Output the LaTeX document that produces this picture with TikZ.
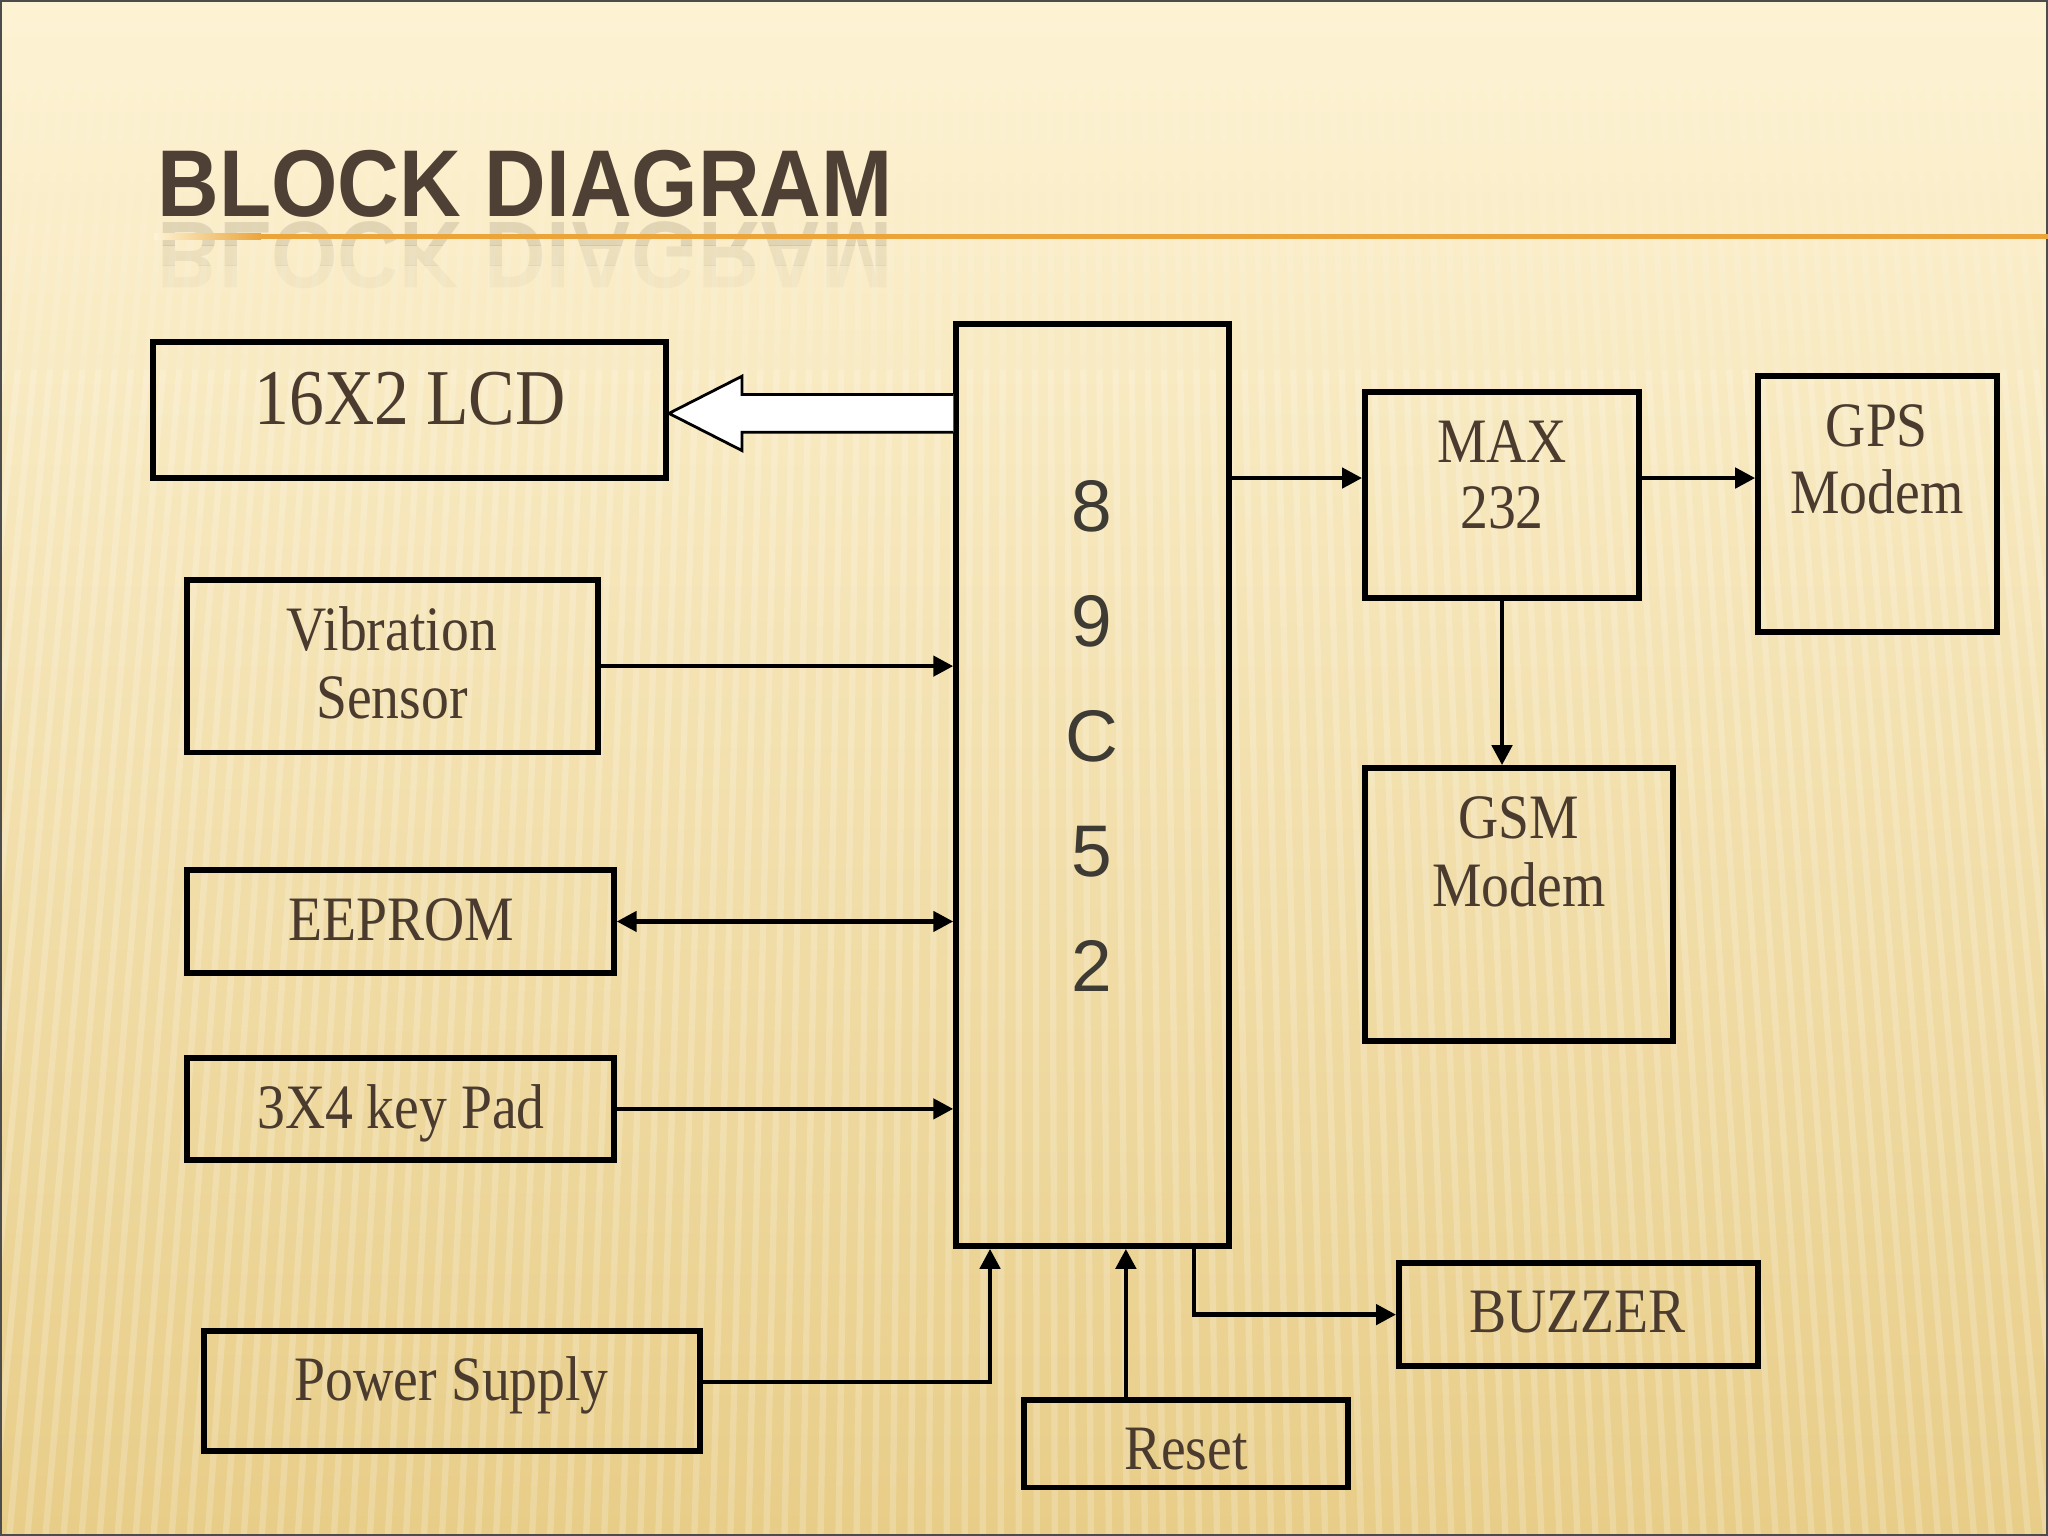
\documentclass[tikz,border=0pt]{standalone}
\usepackage{fontspec}
\usepackage{graphicx}
\usetikzlibrary{arrows.meta,calc}
\newfontfamily\boxfont[FakeStretch=0.88]{Liberation Serif}
\newfontfamily\ttlfont[FakeStretch=0.9]{Liberation Sans Bold}
\newfontfamily\chipfont{Liberation Sans}
\definecolor{txt}{HTML}{4A3B2E}
\definecolor{bgtop}{HTML}{FDF3D4}
\definecolor{bgmid}{HTML}{F6E3AC}
\definecolor{bgbot}{HTML}{E8CD88}
\definecolor{orng}{HTML}{EBA43A}
\definecolor{ttl}{HTML}{4E4034}
\definecolor{chiptxt}{HTML}{3E3A34}
\begin{document}
\begin{tikzpicture}[x=0.013061cm,y=-0.013061cm,
  blk/.style 2 args={draw=black,line width=1.6pt,minimum width=#1*0.013061cm,minimum height=#2*0.013061cm,inner sep=0pt},
  lbl/.style={text=txt,font=\boxfont\fontsize{18}{20}\selectfont,anchor=base,inner sep=0pt},
  dig/.style={text=chiptxt,font=\chipfont\fontsize{20.8}{22}\selectfont,anchor=base,inner sep=0pt},
  tip/.tip={Triangle[length=0.2cm,width=0.2cm]},
  conn/.style={line width=1.3pt,-tip},
  hollowarrow/.style={draw=black,fill=white,line width=0.8pt,line join=miter},
  stripe/.style={white,line width=1.8pt},
  ttlstyle/.style={anchor=base west, inner sep=0pt, text=ttl, font=\ttlfont\fontsize{27}{30}\selectfont},
]
\useasboundingbox (0,0) rectangle (1568,1176);
% background
\shade[top color=bgtop, middle color=bgmid, bottom color=bgbot] (0,0) rectangle (1568,1176);
\begin{scope}
  \clip (0,0) rectangle (1568,1176);
  \foreach \i in {-30,...,150}{
    \pgfmathsetmacro{\xa}{\i*12}
    \pgfmathsetmacro{\xb}{780+(\i*12-780)*1.15}
    \draw[stripe, opacity=0.05] ($(\xa,60)!0.0!(\xb,1176)$) -- ($(\xa,60)!0.1!(\xb,1176)$);
    \draw[stripe, opacity=0.11] ($(\xa,60)!0.1!(\xb,1176)$) -- ($(\xa,60)!0.2!(\xb,1176)$);
    \draw[stripe, opacity=0.2] ($(\xa,60)!0.2!(\xb,1176)$) -- ($(\xa,60)!1.0!(\xb,1176)$);
  }
\end{scope}
\draw[line width=0.6pt, black!70] (0.5,0.5) rectangle (1567.5,1175.5);

% title reflection, fading downwards
\begin{scope}
  \clip (100,168) rectangle (720,188);
  \node[ttlstyle, opacity=0.14] (titlerefl) at (120,170) {\scalebox{1}[-1]{BLOCK DIAGRAM}};
\end{scope}
\begin{scope}
  \clip (100,188) rectangle (720,203);
  \node[ttlstyle, opacity=0.08] (titlerefl2) at (120,170) {\scalebox{1}[-1]{BLOCK DIAGRAM}};
\end{scope}
\begin{scope}
  \clip (100,203) rectangle (720,225);
  \node[ttlstyle, opacity=0.04] (titlerefl3) at (120,170) {\scalebox{1}[-1]{BLOCK DIAGRAM}};
\end{scope}
\shade[left color=bgtop, right color=orng] (118,179) rectangle (200,183);
\fill[orng] (200,179) rectangle (1568,183);
\node[ttlstyle] (title) at (120,166) {BLOCK DIAGRAM};

% blocks
\node[blk={393}{104}] (lcd) at (313.5,314) {};
\node[blk={209}{706}] (chip) at (836.5,601) {};
\node[blk={315}{132}] (vib) at (300.5,510) {};
\node[blk={327}{79}] (eep) at (306.5,705.5) {};
\node[blk={327}{78}] (key) at (306.5,849) {};
\node[blk={380}{92}] (pow) at (346,1065) {};
\node[blk={248}{67}] (reset) at (908,1105.5) {};
\node[blk={275}{79}] (buz) at (1208.5,1006.5) {};
\node[blk={210}{158}] (max) at (1150,379) {};
\node[blk={183}{196}] (gps) at (1437.5,386) {};
\node[blk={236}{209}] (gsm) at (1163,692.5) {};

% labels
\node[lbl, font=\boxfont\fontsize{22.5}{24}\selectfont] (lcdT) at (314,325) {16X2 LCD};
\node[lbl] (vibT1) at (300,498) {Vibration};
\node[lbl] (vibT2) at (300,550) {Sensor};
\node[lbl] (eepT) at (307,720) {EEPROM};
\node[lbl] (keyT) at (307,864) {3X4 key Pad};
\node[lbl] (powT) at (346,1072) {Power Supply};
\node[lbl] (resetT) at (908,1125) {Reset};
\node[lbl] (buzT) at (1208,1020) {BUZZER};
\node[lbl] (maxT1) at (1150,354) {MAX};
\node[lbl] (maxT2) at (1150,405) {232};
\node[lbl] (gpsT1) at (1437,342) {GPS};
\node[lbl] (gpsT2) at (1437,393) {Modem};
\node[lbl] (gsmT1) at (1163,642) {GSM};
\node[lbl] (gsmT2) at (1163,694) {Modem};

% chip digits
\node[dig] (d1) at (836,407) {8};
\node[dig] (d2) at (836,495) {9};
\node[dig] (d3) at (836,583) {C};
\node[dig] (d4) at (836,671) {5};
\node[dig] (d5) at (836,759) {2};

% hollow arrow to LCD
\coordinate (bt) at ($(lcd.east)+(0,2.5)$);
\coordinate (bs1) at ($(bt)+(56,-14.5)$);
\coordinate (bs2) at ($(bt)+(56,14.5)$);
\draw[hollowarrow] (chip.west |- bs1) -- (bs1) -- ++(0,-14) -- (bt) -- ($(bs2)+(0,14)$) -- (bs2) -- (chip.west |- bs2);

% connectors
\coordinate (y366) at (0,366);
\draw[conn] (chip.east |- y366) -- (max.west |- y366);
\draw[conn] (max.east |- y366) -- (gps.west |- y366);
\draw[conn] (max.south) -- (max.south |- gsm.north);
\draw[conn] (vib.east) -- (vib.east -| chip.west);
\draw[conn, tip-tip] (eep.east) -- (eep.east -| chip.west);
\draw[conn] (key.east) -- (key.east -| chip.west);
\coordinate (yp) at (0,1058);
\coordinate (xp) at (758,0);
\draw[conn] (pow.east |- yp) -| (xp |- chip.south);
\coordinate (xr) at (862,0);
\draw[conn] (xr |- reset.north) -- (xr |- chip.south);
\coordinate (xb) at (914,0);
\draw[conn] (xb |- chip.south) |- (buz.west);
\end{tikzpicture}
\end{document}
